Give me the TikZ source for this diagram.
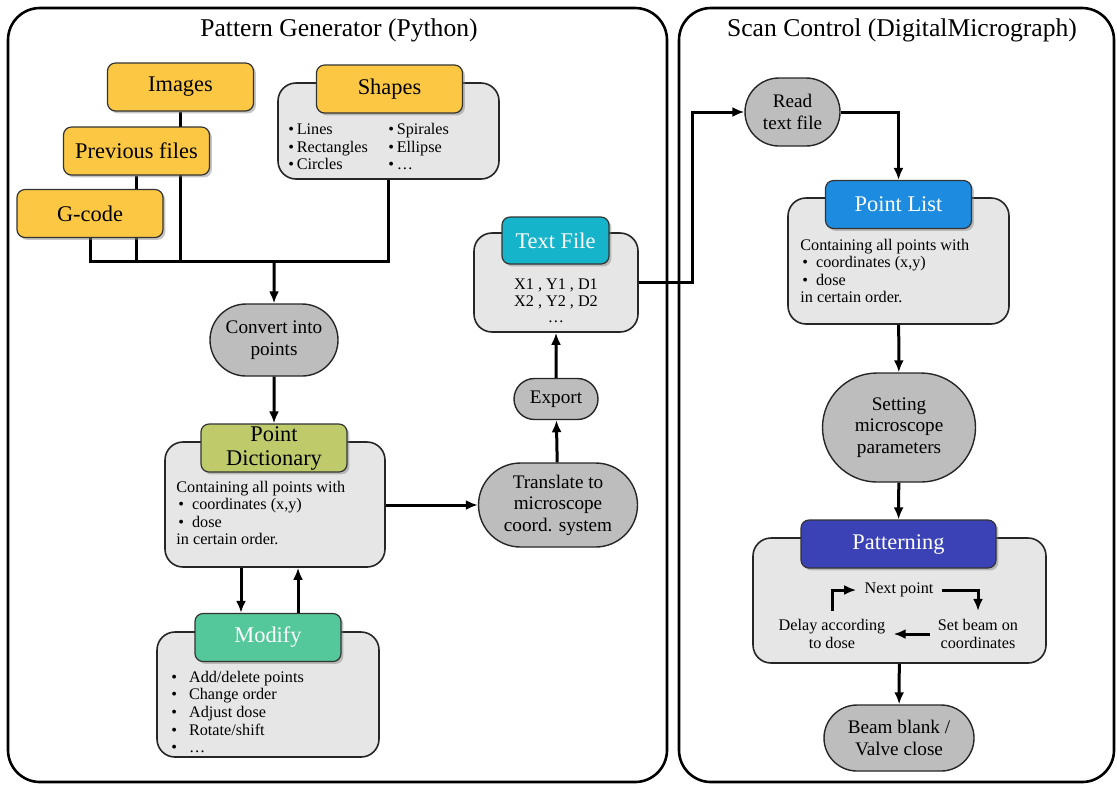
\documentclass[tikz,border=0pt]{standalone}
\usepackage{fontspec}
\setmainfont{Liberation Serif}
\usepackage{xcolor}
\usepackage{tikz}
\usetikzlibrary{shapes.geometric, shapes.misc, arrows.meta, shadows, backgrounds}

\definecolor{srcyellow}{HTML}{FCC844}
\definecolor{dictgreen}{HTML}{BFCB6B}
\definecolor{modgreen}{HTML}{55C89B}
\definecolor{filecyan}{HTML}{16B4CB}
\definecolor{listblue}{HTML}{1D8CE0}
\definecolor{patindigo}{HTML}{3A42B6}
\definecolor{panelgray}{HTML}{E6E6E6}
\definecolor{stepgray}{HTML}{BDBDBD}

\begin{document}
\begin{tikzpicture}[
    x=0.5pt, y=-0.5pt,
    >={Latex[length=6pt,width=5pt]},
    frame/.style={draw, line width=1.3pt, rounded corners=16pt},
    frametitle/.style={font=\fontsize{12.8}{14}\selectfont},
    head/.style={draw=black!80, line width=0.6pt, rounded corners=4pt, minimum width=73pt, minimum height=24pt, inner sep=1pt, align=center, font=\fontsize{11.2}{12}\selectfont, drop shadow={opacity=0.45, shadow xshift=1.2pt, shadow yshift=-1.2pt}},
    panel/.style={draw=black!85, line width=0.8pt, fill=panelgray, rounded corners=9pt},
    bodytext/.style={font=\fontsize{8.1}{8.8}\selectfont, align=left, inner sep=0pt},
    action/.style={rounded rectangle, draw=black!85, line width=0.7pt, fill=stepgray, align=center, inner sep=1pt, font=\fontsize{9.6}{10.8}\selectfont},
    link/.style={line width=1.5pt}
]
    \useasboundingbox (0,0) rectangle (1117,784);

    % Frames
    \draw[frame] (8,8) rectangle (667,782);
    \draw[frame] (679,8) rectangle (1114,782);
    \node (gentitle) [frametitle] at (339,30) {Pattern Generator (Python)};
    \node (scantitle) [frametitle] at (902,30) {Scan Control (DigitalMicrograph)};

    % Node placement -- pattern generator
    \node (images) [head, fill=srcyellow] at (180.5,87) {Images};
    \node (prevfiles) [head, fill=srcyellow] at (136.5,151) {Previous files};
    \node (gcode) [head, fill=srcyellow] at (90,213.5) {G-code};

    \node (shapesbody) [panel, minimum width=110.5pt, minimum height=48pt] at (388.5,131) {};
    \node (shapeshead) [head, fill=srcyellow] at (389.5,89) {Shapes};
    \node (shapeslist) [bodytext, anchor=west] at (288,148.5) {%
        \begin{tabular}{@{}p{50pt}@{}l@{}}
        \textbullet\,Lines & \textbullet\,Spirales\\
        \textbullet\,Rectangles & \textbullet\,Ellipse\\
        \textbullet\,Circles & \textbullet\,\dots
        \end{tabular}};

    \node (convert) [action, minimum width=66pt, minimum height=36pt] at (274,340) {Convert into\\points};

    \node (dictbody) [panel, minimum width=110pt, minimum height=62.5pt] at (275,504.5) {};
    \node (dicthead) [head, fill=dictgreen, inner sep=0.5pt, font=\fontsize{11.2}{12}\selectfont] at (274,448) {Point\\Dictionary};
    \node (dicttext) [bodytext, anchor=west] at (176,513) {Containing all points with\\
        \hspace{1pt}\textbullet\hspace{4pt}coordinates (x,y)\\
        \hspace{1pt}\textbullet\hspace{4pt}dose\\
        in certain order.};

    \node (modbody) [panel, minimum width=111pt, minimum height=62.5pt] at (268,694.5) {};
    \node (modhead) [head, fill=modgreen, text=white] at (268,637.5) {Modify};
    \node (modtext) [bodytext, anchor=west] at (171,712) {\textbullet\hspace{6pt}Add/delete points\\
        \textbullet\hspace{6pt}Change order\\
        \textbullet\hspace{6pt}Adjust dose\\
        \textbullet\hspace{6pt}Rotate/shift\\
        \textbullet\hspace{6pt}\dots};

    \node (translate) [action, minimum width=81.5pt, minimum height=42pt] at (558,505) {Translate to\\microscope\\coord. system};
    \node (export) [action, minimum width=44pt, minimum height=20.5pt] at (556,399) {Export};

    \node (tfbody) [panel, minimum width=82pt, minimum height=49.5pt] at (556,282.5) {};
    \node (tfhead) [head, fill=filecyan, text=white, minimum width=53.5pt, minimum height=23.5pt] at (555.5,240.5) {Text File};
    \node (tftext) [bodytext, align=center, font=\fontsize{8.1}{8.2}\selectfont] at (556,301) {X1 , Y1 , D1\\X2 , Y2 , D2\\\dots};

    % Node placement -- scan control
    \node (readtf) [action, minimum width=49.5pt, minimum height=34pt] at (792.5,112) {Read\\text file};

    \node (plbody) [panel, minimum width=110.5pt, minimum height=63pt] at (898.5,261) {};
    \node (plhead) [head, fill=listblue, text=white] at (898.5,204.5) {Point List};
    \node (pltext) [bodytext, anchor=west] at (800,271) {Containing all points with\\
        \hspace{1pt}\textbullet\hspace{4pt}coordinates (x,y)\\
        \hspace{1pt}\textbullet\hspace{4pt}dose\\
        in certain order.};

    \node (setting) [action, minimum width=78.5pt, minimum height=54.5pt] at (899,427.5) {Setting\\microscope\\parameters};

    \node (patbody) [panel, minimum width=146.5pt, minimum height=62.5pt] at (899.5,600.5) {};
    \node (pathead) [head, fill=patindigo, text=white, minimum width=97.5pt] at (898.5,544) {Patterning};
    \node (nextpt) [bodytext, inner sep=4pt] at (899,590) {Next point};
    \node (setbeam) [bodytext, align=center, inner sep=4pt, font=\fontsize{8.1}{9}\selectfont] at (978,634) {Set beam on\\coordinates};
    \node (delay) [bodytext, align=center, inner sep=4pt, font=\fontsize{8.1}{9}\selectfont] at (832,634) {Delay according\\to dose};

    \node (beamblank) [action, minimum width=77pt, minimum height=33pt] at (899,738) {Beam blank /\\Valve close};

    % Arrows
    \begin{scope}[on background layer]
        \coordinate (bus) at (274,261);
        \draw[link] (gcode.south) |- (shapesbody.south |- bus) -- (shapesbody.south);
        \draw[link] (prevfiles.south) -- (prevfiles.south |- bus);
        \draw[link] (images.south) -- (images.south |- bus);
    \end{scope}
    \draw[link, ->] (bus) -- (convert);
    \draw[link, ->] (convert) -- (dicthead);
    \draw[link, ->] ([xshift=-17pt]dictbody.south) -- ([xshift=-17pt]dictbody.south |- modhead.north);
    \draw[link, ->] ([xshift=11.5pt]dictbody.south |- modhead.north) -- ([xshift=11.5pt]dictbody.south);
    \draw[link, ->] (dictbody.east |- translate) -- (translate);
    \draw[link, ->] (translate) -- (export);
    \draw[link, ->] (export) -- (tfbody);
    \coordinate (turn) at (692,112);
    \draw[link, ->] (tfbody.east) -| (turn) -- (readtf);
    \draw[link, ->] (readtf) -| (plhead);
    \draw[link, ->] (plbody) -- (setting);
    \draw[link, ->] (setting) -- (pathead);
    \draw[link, ->] (patbody) -- (beamblank);

    % Patterning loop
    \draw[link, ->] (delay.north) |- (nextpt.west);
    \draw[link, ->] (nextpt.east) -| (setbeam.north);
    \draw[link, ->] (setbeam.west) -- (delay.east);

\end{tikzpicture}
\end{document}
